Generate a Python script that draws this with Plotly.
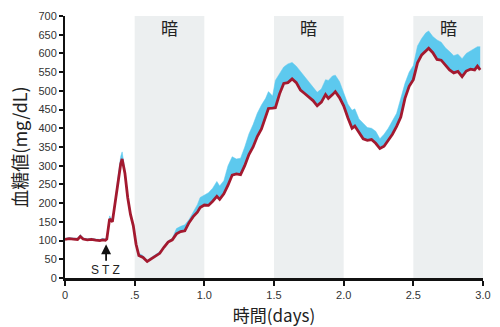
import plotly.graph_objects as go

# Time after start (days)
days = [0.00, 0.03, 0.06, 0.09, 0.11, 0.13, 0.16, 0.19, 0.22, 0.25, 0.27, 0.29,
        0.30, 0.32, 0.34, 0.36, 0.38, 0.40, 0.41, 0.43, 0.45, 0.47, 0.49, 0.51,
        0.53, 0.56, 0.59, 0.62, 0.65, 0.68, 0.71, 0.74, 0.77, 0.80, 0.83, 0.86,
        0.89, 0.92, 0.95, 0.97, 1.00, 1.03, 1.06, 1.09, 1.11, 1.14, 1.17, 1.20,
        1.23, 1.26, 1.29, 1.32, 1.35, 1.38, 1.41, 1.44, 1.46, 1.49, 1.51, 1.54,
        1.57, 1.60, 1.63, 1.66, 1.69, 1.72, 1.75, 1.78, 1.81, 1.84, 1.87, 1.89,
        1.92, 1.94, 1.97, 2.00, 2.03, 2.06, 2.08, 2.11, 2.14, 2.17, 2.20, 2.23,
        2.26, 2.29, 2.32, 2.35, 2.38, 2.41, 2.44, 2.47, 2.50, 2.53, 2.56, 2.59,
        2.61, 2.64, 2.67, 2.70, 2.73, 2.76, 2.79, 2.82, 2.85, 2.88, 2.91, 2.94,
        2.96, 2.98]

# Mean blood glucose (mg/dL)
glucose_mean = [103, 105, 104, 103, 111, 104, 102, 103, 101, 100, 102, 101,
                104, 158, 150, 200, 262, 305, 318, 280, 215, 170, 140, 90,
                60, 55, 44, 52, 60, 66, 82, 96, 102, 118, 124, 126,
                148, 164, 176, 188, 195, 194, 205, 218, 210, 225, 248, 275,
                278, 276, 300, 330, 350, 378, 398, 430, 453, 454, 455, 492,
                520, 522, 532, 522, 502, 493, 484, 474, 460, 470, 490, 480,
                490, 498, 482, 460, 428, 400, 406, 388, 372, 368, 370, 360,
                346, 352, 368, 384, 405, 430, 480, 512, 530, 575, 596, 608,
                614, 602, 584, 582, 568, 556, 548, 552, 538, 553, 558, 556,
                566, 556]

# Mean + SEM (mg/dL)
glucose_upper = [106, 108, 107, 106, 116, 107, 105, 106, 104, 103, 106, 104,
                 108, 166, 155, 205, 270, 325, 337, 290, 220, 174, 143, 93,
                 66, 60, 47, 56, 63, 70, 86, 99, 106, 132, 138, 142,
                 156, 176, 196, 215, 222, 228, 240, 258, 246, 260, 300, 324,
                 318, 320, 350, 385, 410, 440, 462, 480, 498, 486, 528, 545,
                 564, 572, 576, 566, 552, 535, 522, 508, 496, 505, 530, 528,
                 540, 542, 525, 495, 465, 448, 452, 425, 412, 402, 400, 392,
                 372, 384, 400, 420, 440, 480, 520, 550, 568, 620, 640, 655,
                 660, 645, 636, 630, 615, 605, 594, 598, 586, 600, 606, 614,
                 618, 618]

dark_periods = [(0.5, 1.0), (1.5, 2.0), (2.5, 3.0)]
dark_label = "暗"

x_tickvals = [0, 0.5, 1.0, 1.5, 2.0, 2.5, 3.0]
x_ticktext = ["0", ".5", "1.0", "1.5", "2.0", "2.5", "3.0"]
y_tickvals = list(range(0, 701, 50))

RED = "#A3192F"
CYAN = "#5DC9EE"
SHADE = "#ECEFF0"
JP_FONT = "Noto Sans CJK JP"
TICK_FONT = "Liberation Sans, Arial, sans-serif"

fig = go.Figure()

# SEM band: filled from the mean up to mean + SEM
fig.add_trace(go.Scatter(x=days, y=glucose_mean, mode="lines",
                         line=dict(width=0, color=CYAN), hoverinfo="skip",
                         showlegend=False))
fig.add_trace(go.Scatter(x=days, y=glucose_upper, mode="lines",
                         line=dict(width=0.5, color=CYAN), fill="tonexty",
                         fillcolor=CYAN, showlegend=False))
# Mean line
fig.add_trace(go.Scatter(x=days, y=glucose_mean, mode="lines",
                         line=dict(width=2.8, color=RED), showlegend=False))

shapes = []
annotations = []
for x0, x1 in dark_periods:
    shapes.append(dict(type="rect", xref="x", yref="y", x0=x0, x1=x1,
                       y0=0, y1=700, fillcolor=SHADE, line=dict(width=0),
                       layer="below"))
    annotations.append(dict(x=(x0 + x1) / 2, y=670, xref="x", yref="y",
                            text=dark_label, showarrow=False,
                            font=dict(family=JP_FONT, size=17, color="#222")))

# STZ injection marker
annotations.append(dict(x=0.295, y=90, xref="x", yref="y", ax=0.295, ay=42,
                        axref="x", ayref="y", text="", showarrow=True,
                        arrowhead=2, arrowsize=1.1, arrowwidth=1.8,
                        arrowcolor="#111"))
annotations.append(dict(x=0.29, y=21, xref="x", yref="y",
                        yanchor="middle", text="S T Z", showarrow=False,
                        font=dict(family=TICK_FONT, size=12, color="#222")))

fig.update_layout(
    width=500, height=327,
    margin=dict(l=65, r=17, t=16, b=49),
    paper_bgcolor="white", plot_bgcolor="white",
    shapes=shapes, annotations=annotations,
    xaxis=dict(range=[0, 3], tickvals=x_tickvals, ticktext=x_ticktext,
               automargin=False,
               showgrid=False, zeroline=False, showline=True,
               linecolor="#111", linewidth=2.5, ticks="outside",
               ticklen=5, tickwidth=2, tickcolor="#111",
               tickfont=dict(family=TICK_FONT, size=11, color="#333"),
               title=dict(text="時間(days)", standoff=13,
                          font=dict(family=JP_FONT, size=17, color="#222"))),
    yaxis=dict(range=[0, 700], tickvals=y_tickvals,
               automargin=False,
               showgrid=False, zeroline=False, showline=True,
               linecolor="#111", linewidth=2, ticks="outside",
               ticklen=4, tickwidth=2, tickcolor="#111",
               tickfont=dict(family=TICK_FONT, size=11, color="#333"),
               title=dict(text="血糖値(mg/dL)", standoff=6,
                          font=dict(family=JP_FONT, size=18, color="#222"))),
)

fig.write_html("out.html")
